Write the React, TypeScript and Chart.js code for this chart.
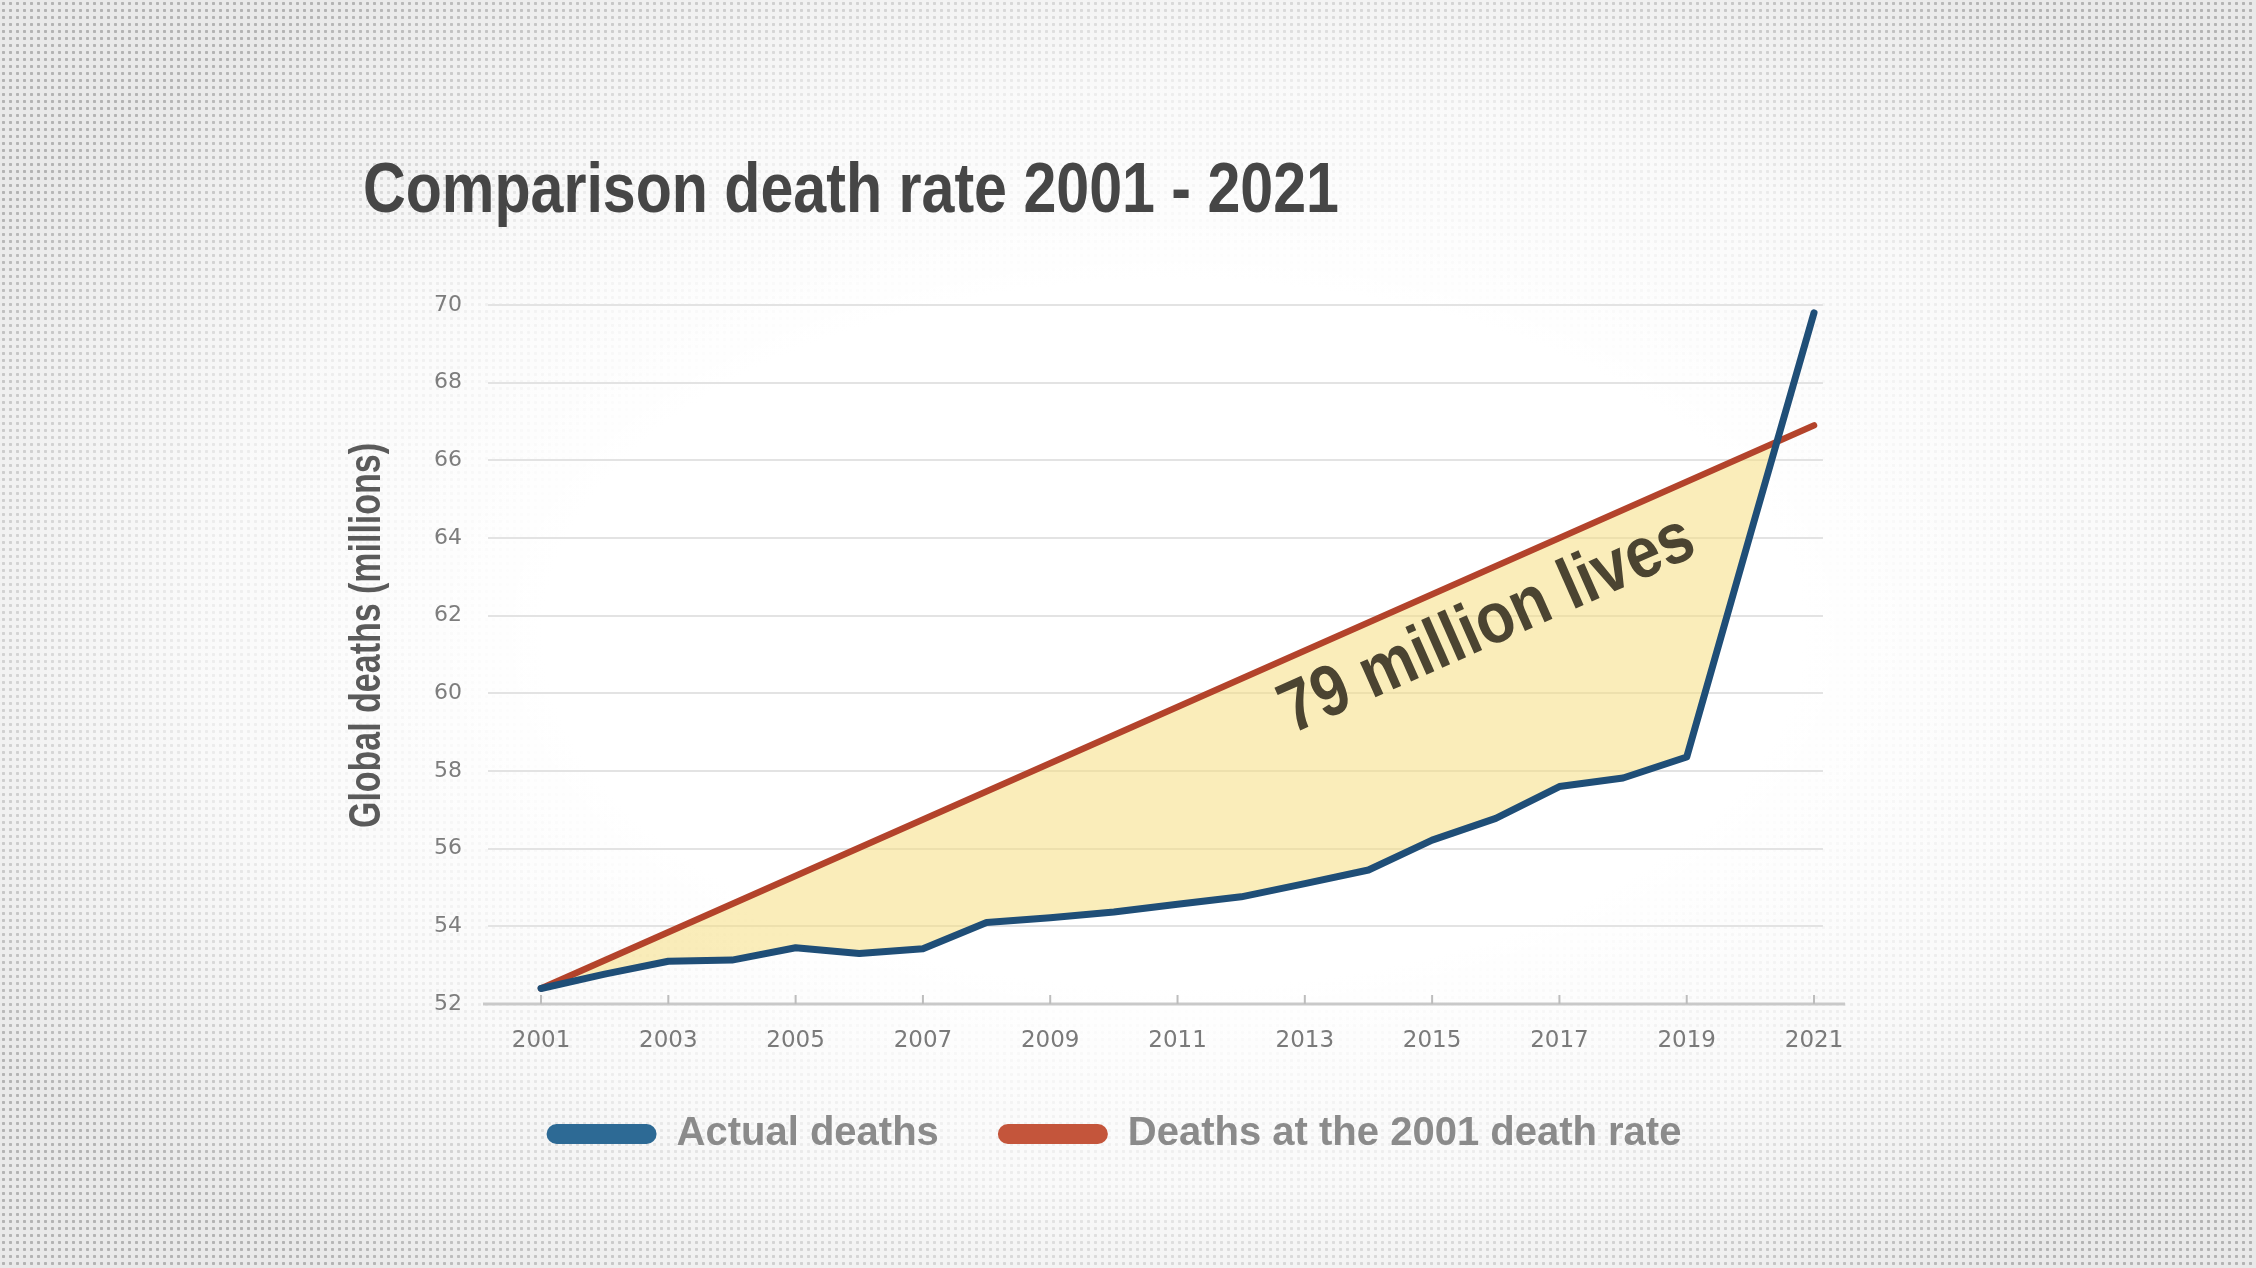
import React, { useEffect, useRef } from "react"
import { Chart, registerables } from "chart.js"
import type { Plugin } from "chart.js"

Chart.register(...registerables)

const years = [2001, 2002, 2003, 2004, 2005, 2006, 2007, 2008, 2009, 2010, 2011,
  2012, 2013, 2014, 2015, 2016, 2017, 2018, 2019, 2020, 2021]
const actualDeaths = [52.4, 52.77, 53.1, 53.13, 53.45, 53.3, 53.42, 54.1, 54.22, 54.37, 54.57,
  54.76, 55.1, 55.45, 56.22, 56.78, 57.6, 57.82, 58.36, 64.1, 69.8]
const rateYears = [2001, 2021]
const rateDeaths = [52.4, 66.9]
const xTickYears = [2001, 2003, 2005, 2007, 2009, 2011, 2013, 2015, 2017, 2019, 2021]

const titleText = "Comparison death rate 2001 - 2021"
const yTitleText = "Global deaths (millions)"
const noteText = "79 million lives"
const noteAt = { x: 2012.8, y: 58.95 }

const BLUE_LINE = "#1f4e77"
const RED_LINE = "#b3432b"
const BLUE_KEY = "#2d6a95"
const RED_KEY = "#c4553b"
const FILL = "rgba(245, 222, 130, 0.55)"

// horizontally squeeze text so it takes the given width
function fitText(ctx: CanvasRenderingContext2D, text: string, x: number, y: number, width: number) {
  const w = ctx.measureText(text).width
  ctx.save()
  ctx.translate(x, y)
  ctx.scale(width / w, 1)
  ctx.fillText(text, 0, 0)
  ctx.restore()
}

const decorPlugin: Plugin<"line"> = {
  id: "decor",
  beforeDatasetsDraw(chart) {
    const { ctx, chartArea, scales } = chart
    const y0 = scales.y.getPixelForValue(52)
    ctx.save()
    ctx.strokeStyle = "#c9c9c9"
    ctx.lineWidth = 3
    ctx.beginPath()
    ctx.moveTo(chartArea.left - 5, y0)
    ctx.lineTo(chartArea.right + 22, y0)
    ctx.stroke()
    ctx.strokeStyle = "#bdbdbd"
    ctx.lineWidth = 2
    for (const yr of xTickYears) {
      const px = scales.x.getPixelForValue(yr)
      ctx.beginPath()
      ctx.moveTo(px, y0)
      ctx.lineTo(px, y0 - 9)
      ctx.stroke()
    }
    ctx.restore()
  },
  afterDatasetsDraw(chart) {
    const { ctx, scales } = chart
    const x = scales.x, y = scales.y
    // note runs parallel to the 2001-rate line
    const ax = x.getPixelForValue(rateYears[0]), ay = y.getPixelForValue(rateDeaths[0])
    const bx = x.getPixelForValue(rateYears[1]), by = y.getPixelForValue(rateDeaths[1])
    const angle = Math.atan2(by - ay, bx - ax)
    ctx.save()
    ctx.translate(x.getPixelForValue(noteAt.x), y.getPixelForValue(noteAt.y))
    ctx.rotate(angle)
    ctx.font = 'bold 72px "Liberation Sans", Arial, sans-serif'
    ctx.fillStyle = "#4b4431"
    ctx.textBaseline = "alphabetic"
    ctx.textAlign = "left"
    fitText(ctx, noteText, 0, 0, 445)
    ctx.restore()
  },
  afterDraw(chart) {
    const { ctx } = chart
    ctx.save()
    ctx.textBaseline = "alphabetic"
    ctx.textAlign = "left"
    ctx.font = 'bold 71px "Liberation Sans", Arial, sans-serif'
    ctx.fillStyle = "#464646"
    fitText(ctx, titleText, 363, 212, 976)

    ctx.translate(380, 636)
    ctx.rotate(-Math.PI / 2)
    ctx.font = 'bold 44px "Liberation Sans", Arial, sans-serif'
    ctx.fillStyle = "#5a5a5a"
    fitText(ctx, yTitleText, -192, 0, 385)
    ctx.restore()
  },
}

export default function App() {
  const canvasRef = useRef<HTMLCanvasElement>(null)

  useEffect(() => {
    document.body.style.margin = "0"
    if (!canvasRef.current) return
    const chart = new Chart(canvasRef.current, {
      type: "line",
      data: {
        datasets: [
          {
            label: "Actual deaths",
            data: years.map((yr, i) => ({ x: yr, y: actualDeaths[i] })),
            borderColor: BLUE_LINE,
            backgroundColor: BLUE_KEY,
            borderWidth: 7,
            borderCapStyle: "round",
            borderJoinStyle: "round",
            pointRadius: 0,
            tension: 0,
            fill: { target: 1, above: "rgba(0,0,0,0)", below: FILL },
          },
          {
            label: "Deaths at the 2001 death rate",
            data: rateYears.map((yr, i) => ({ x: yr, y: rateDeaths[i] })),
            borderColor: RED_LINE,
            backgroundColor: RED_KEY,
            borderWidth: 6.5,
            borderCapStyle: "round",
            pointRadius: 0,
            tension: 0,
            fill: false,
          },
        ],
      },
      options: {
        animation: false,
        responsive: true,
        maintainAspectRatio: false,
        layout: { padding: { left: 405, top: 305, right: 433, bottom: 104 } },
        scales: {
          x: {
            type: "linear",
            min: 2000.167,
            max: 2021.141,
            afterBuildTicks: (scale) => {
              scale.ticks = xTickYears.map((v) => ({ value: v }))
            },
            afterFit: (scale) => {
              scale.height = 51
            },
            grid: { display: false },
            border: { display: false },
            ticks: {
              padding: 15,
              color: "#7a7a7a",
              font: { family: '"DejaVu Sans"', size: 23 },
              callback: (v) => String(v),
            },
          },
          y: {
            min: 52,
            max: 70,
            afterFit: (scale) => {
              scale.width = 83
            },
            grid: {
              color: (c) => (c.tick && c.tick.value === 52 ? "rgba(0,0,0,0)" : "#e3e3e3"),
              lineWidth: 2,
              drawTicks: false,
            },
            border: { display: false },
            ticks: {
              stepSize: 2,
              padding: 26,
              color: "#7d7d7d",
              font: { family: '"DejaVu Sans"', size: 22 },
            },
          },
        },
        plugins: {
          filler: { drawTime: "beforeDatasetsDraw" },
          title: { display: false },
          tooltip: { enabled: false },
          legend: {
            display: true,
            position: "bottom",
            align: "center",
            labels: {
              boxWidth: 110,
              boxHeight: 20,
              useBorderRadius: true,
              borderRadius: 10,
              padding: 59,
              color: "#8b8b8b",
              font: { family: '"Liberation Sans", Arial, sans-serif', size: 40, weight: "bold" },
              generateLabels: (ch) =>
                Chart.defaults.plugins.legend.labels.generateLabels(ch).map((item) => ({
                  ...item,
                  lineWidth: 0,
                  strokeStyle: "rgba(0,0,0,0)",
                })),
            },
          },
        },
      },
      plugins: [decorPlugin],
    })
    return () => chart.destroy()
  }, [])

  return (
    <div
      style={{
        position: "fixed",
        left: 0,
        top: 0,
        width: 2256,
        height: 1268,
        background:
          "radial-gradient(ellipse 62% 62% at 52% 50%, #ffffff 45%, rgba(255,255,255,0.75) 70%, rgba(255,255,255,0) 100%), radial-gradient(circle, #b3b3b3 1.3px, rgba(0,0,0,0) 2px) 0 0 / 7px 7px, #e9e9e9",
      }}
    >
      <canvas ref={canvasRef} />
    </div>
  )
}
